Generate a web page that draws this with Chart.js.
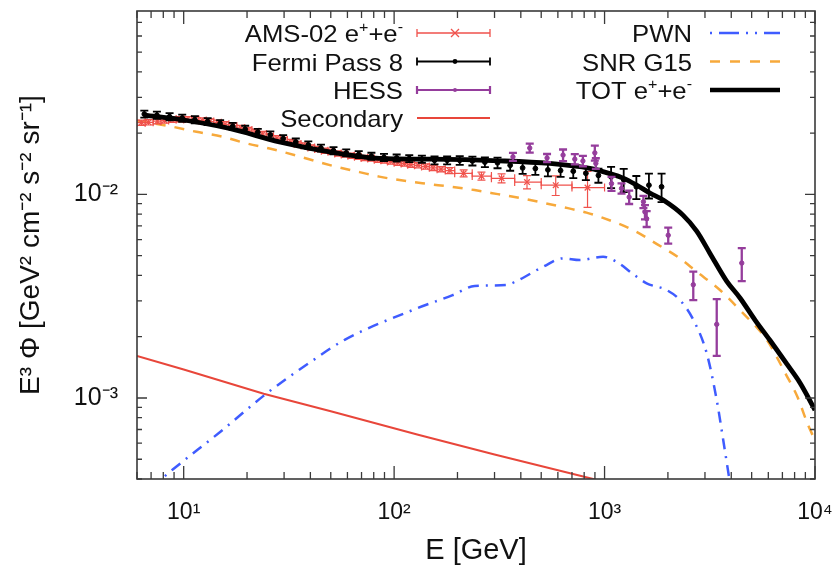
<!DOCTYPE html>
<html><head><meta charset="utf-8">
<script src="https://cdn.jsdelivr.net/npm/chart.js@4/dist/chart.umd.min.js"></script>
<style>html,body{margin:0;padding:0;background:#fff}</style>
</head><body>
<canvas id="c" width="832" height="568"></canvas>
<script>
// ---------- axis ranges & tick labels ----------
const X_MIN = 6, X_MAX = 10000;
const Y_MIN = 4e-4, Y_MAX = 0.0796;
const xTickValues = [10, 100, 1000, 10000];
const xTickLabels = ['10¹', '10²', '10³', '10⁴'];
const yTickValues = [0.001, 0.01];
const yTickLabels = ['10⁻³', '10⁻²'];

// ---------- model curves ----------
const secE = [6, 10, 24, 50, 130, 300, 883, 1000];
const secV = [1.61e-3, 1.38e-3, 1.05e-3, 8.6e-4, 6.6e-4, 5.28e-4, 4.0e-4, 3.85e-4];

const pwnE = [7.0, 8.87, 15, 24.7, 40, 58.2, 127.6, 189.7, 241.4, 341.7, 381, 510, 635, 762, 984, 1140, 1368, 1585, 1972, 2280, 2642, 3057, 3410, 3665, 3917, 4100];
const pwnV = [3.62e-4, 4.45e-4, 6.85e-4, 1.05e-3, 1.50e-3, 1.93e-3, 2.75e-3, 3.2e-3, 3.55e-3, 3.59e-3, 3.75e-3, 4.41e-3, 4.85e-3, 4.76e-3, 4.94e-3, 4.67e-3, 4.06e-3, 3.66e-3, 3.39e-3, 3.03e-3, 2.42e-3, 1.66e-3, 9.8e-4, 6.2e-4, 4.0e-4, 3.0e-4];

const snrE = [6, 8.55, 11.5, 15.3, 19.9, 25.6, 30.8, 52.7, 68.5, 85, 110, 147, 184, 241, 311, 409, 520, 669, 821, 950, 1368, 1774, 2280, 2740, 3535, 4403, 5900, 7293, 8230, 9270, 10000];
const snrV = [0.0230, 0.02164, 0.0203, 0.0192, 0.0178, 0.0168, 0.0160, 0.0137, 0.01287, 0.01223, 0.01169, 0.01124, 0.01092, 0.0105, 0.01003, 0.00954, 0.00906, 0.00856, 0.00814, 0.00776, 0.00668, 0.0057, 0.00485, 0.00417, 0.00339, 0.00270, 0.00193, 0.00130, 0.00102, 0.000736, 0.00062];

const totE = [6.5, 10, 16.5, 28.5, 49.3, 85.3, 147.5, 317.5, 549, 851, 1060, 1226, 1420, 1643, 1900, 2358, 2740, 3170, 3802, 4403, 5190, 6120, 7345, 8492, 10000];
const totV = [0.0245, 0.0232, 0.02109, 0.01812, 0.01618, 0.01502, 0.0149, 0.01462, 0.01419, 0.01342, 0.01265, 0.01202, 0.01111, 0.01015, 0.00938, 0.00791, 0.0066, 0.00513, 0.00375, 0.0031, 0.002415, 0.001916, 0.001469, 0.001185, 0.000873];

// ---------- AMS-02 e+ + e- ----------
const amsE = [6.3,6.8,7.5,8.1,8.8,9.6,10.4,11.3,12.3,13.3,14.5,15.7,17.1,18.7,20.3,21.9,23.7,25.7,27.7,29.9,32.3,34.8,37.5,40.4,43.5,46.8,50.3,54.1,58.2,62.5,67.2,72.3,77.7,83.5,89.7,96.4,104,112,120,130,141,153,167,184,214,260,324,428,586,830];
const amsV = [0.0225,0.0226,0.0229,0.0231,0.0233,0.0234,0.0234,0.0233,0.0231,0.0228,0.0225,0.0221,0.0217,0.0212,0.0207,0.0203,0.0198,0.0193,0.0189,0.0185,0.0181,0.0177,0.0174,0.0170,0.0167,0.0164,0.0162,0.0159,0.0157,0.0155,0.0153,0.0151,0.0150,0.0148,0.0147,0.0145,0.0143,0.0142,0.0140,0.0139,0.0137,0.0135,0.0133,0.0131,0.0127,0.0123,0.0120,0.0115,0.0111,0.0108];
const amsEdges = [6.0,6.56,7.16,7.80,8.48,9.21,10.0,10.9,11.8,12.8,13.9,15.1,16.4,17.9,19.5,21.1,22.8,24.7,26.7,28.8,31.1,33.5,36.1,38.9,41.9,45.1,48.5,52.2,56.1,60.3,64.8,69.7,74.9,80.5,86.5,93.0,100,108,116,125,135,147,160,175,194,235,290,374,500,700,1000];
const amsErr = [0.03,0.03,0.03,0.03,0.03,0.03,0.03,0.03,0.03,0.03,0.03,0.03,0.03,0.03,0.03,0.03,0.03,0.03,0.03,0.03,0.03,0.03,0.03,0.03,0.03,0.03,0.03,0.03,0.03,0.03,0.03,0.03,0.03,0.03,0.03,0.03,0.03,0.03,0.03,0.03,0.03,0.03,0.03,0.035,0.04,0.045,0.05,0.075,0.11,0.2];

// ---------- Fermi Pass 8 ----------
const fermiE = [6.50,7.46,8.57,9.84,11.3,13.0,14.9,17.1,19.6,22.5,25.8,29.7,34.1,39.1,44.9,51.5,59.2,67.9,78.0,89.5,102.8,118,135.5,155.6,178.6,205,235.5,270,310,356,408,469,538,618,710,815,935,1074,1233,1416,1625,1866];
const fermiV = [0.0248,0.0245,0.0241,0.0237,0.0233,0.0228,0.0223,0.0216,0.0209,0.0202,0.0196,0.0188,0.0181,0.0175,0.0169,0.0164,0.0160,0.0157,0.0154,0.0152,0.0151,0.0150,0.0149,0.0147,0.0147,0.0147,0.0146,0.0144,0.0143,0.0139,0.0135,0.0134,0.0132,0.0131,0.0130,0.0127,0.0124,0.0122,0.0118,0.0109,0.0111,0.0109];
const fermiErr = [0.04,0.04,0.04,0.04,0.04,0.04,0.04,0.04,0.04,0.04,0.04,0.04,0.04,0.04,0.04,0.04,0.04,0.04,0.04,0.04,0.04,0.04,0.04,0.045,0.045,0.05,0.05,0.055,0.06,0.06,0.065,0.07,0.07,0.07,0.075,0.075,0.08,0.12,0.13,0.13,0.14,0.16];

// ---------- HESS ----------
const hessE = [367,441,533,635,722,789,899,909,1079,1204,1309,1530,1556,1585,2007,2640,3412,4487];
const hessV = [0.0153,0.0169,0.0151,0.0156,0.0149,0.0146,0.0160,0.0142,0.0113,0.0107,0.0097,0.0092,0.0082,0.0076,0.0063,0.0036,0.0023,0.0046];
const hessErrLo = [0.046,0.05,0.046,0.065,0.058,0.058,0.085,0.06,0.08,0.058,0.075,0.07,0.08,0.09,0.09,0.16,0.30,0.185];
const hessErrHi = [0.046,0.05,0.046,0.065,0.058,0.058,0.085,0.06,0.08,0.058,0.075,0.07,0.08,0.09,0.09,0.16,0.33,0.185];

// ---------- styles ----------
const FONT = "'Liberation Sans', Arial, Helvetica, sans-serif";
const C_AMS = '#f0524c', C_SEC = '#e8463a', C_PWN = '#3f5cff', C_SNR = '#f7a93b', C_HESS = '#953d9c', C_TXT = '#111';

const pts = (xs, ys) => xs.map((x, i) => ({x, y: ys[i]}));

const errSpec = {
  'AMS': {color: C_AMS, width: 1.2, lo: amsErr, hi: amsErr, edges: amsEdges},
  'Fermi': {color: '#000', width: 1.8, lo: fermiErr, hi: fermiErr},
  'HESS': {color: C_HESS, width: 2.3, lo: hessErrLo, hi: hessErrHi}
};

function logTicks(min, max) {
  const out = [];
  for (let e = Math.floor(Math.log10(min)); e <= Math.ceil(Math.log10(max)); e++) {
    for (let m = 1; m <= 9; m++) {
      const v = m * Math.pow(10, e);
      if (v >= min * 0.999 && v <= max * 1.001) out.push({value: v});
    }
  }
  return out;
}
function labelFor(vals, labs, v) {
  const i = vals.findIndex(t => Math.abs(t - v) / t < 1e-6);
  return i >= 0 ? labs[i] : '';
}
function isMajor(v) {
  const l = Math.log10(v);
  return Math.abs(l - Math.round(l)) < 1e-6;
}
function noPad(s) { s.paddingTop = 0; s.paddingBottom = 0; s.paddingLeft = 0; s.paddingRight = 0; }

const errPlugin = {
  id: 'errbars',
  beforeDatasetDraw(chart, args) {
    const ds = chart.data.datasets[args.index];
    const sp = errSpec[ds.key];
    if (!sp) return;
    const {ctx, chartArea: a, scales: {x, y}} = chart;
    ctx.save();
    ctx.beginPath(); ctx.rect(a.left, a.top, a.right - a.left, a.bottom - a.top); ctx.clip();
    ctx.strokeStyle = sp.color; ctx.lineWidth = sp.width;
    const cap = 4;
    ds.data.forEach((p, i) => {
      const px = x.getPixelForValue(p.x), py = y.getPixelForValue(p.y);
      const y1 = y.getPixelForValue(p.y * (1 - sp.lo[i])), y2 = y.getPixelForValue(p.y * (1 + sp.hi[i]));
      ctx.beginPath();
      ctx.moveTo(px, y1); ctx.lineTo(px, y2);
      ctx.moveTo(px - cap, y1); ctx.lineTo(px + cap, y1);
      ctx.moveTo(px - cap, y2); ctx.lineTo(px + cap, y2);
      if (sp.edges) {
        const x1 = x.getPixelForValue(sp.edges[i]), x2 = x.getPixelForValue(sp.edges[i + 1]);
        ctx.moveTo(x1, py); ctx.lineTo(x2, py);
        ctx.moveTo(x1, py - cap); ctx.lineTo(x1, py + cap);
        ctx.moveTo(x2, py - cap); ctx.lineTo(x2, py + cap);
      }
      ctx.stroke();
    });
    ctx.restore();
  }
};

function drawRich(ctx, segs, xRight, base, size, hs) {
  const supSize = Math.round(size * 0.62);
  let total = 0;
  segs.forEach(s => { ctx.font = (s[1] ? supSize : size) + 'px ' + FONT; s.w = ctx.measureText(s[0]).width; total += s.w; });
  ctx.save();
  ctx.translate(xRight, base); ctx.scale(hs, 1);
  let cx = -total;
  ctx.fillStyle = C_TXT; ctx.textBaseline = 'alphabetic'; ctx.textAlign = 'left';
  segs.forEach(s => {
    ctx.font = (s[1] ? supSize : size) + 'px ' + FONT;
    ctx.fillText(s[0], cx, s[1] ? -size * 0.42 : 0);
    cx += s.w;
  });
  ctx.restore();
}

const framePlugin = {
  id: 'frame',
  afterDraw(chart) {
    const {ctx, chartArea: a, scales: {x, y}} = chart;
    ctx.save();
    ctx.strokeStyle = '#3a3a3a'; ctx.lineWidth = 1.6;
    ctx.strokeRect(a.left, a.top, a.right - a.left, a.bottom - a.top);
    ctx.lineWidth = 1.3;
    ctx.beginPath();
    x.ticks.forEach(t => {
      const px = x.getPixelForValue(t.value);
      const L = isMajor(t.value) ? 13 : 7;
      ctx.moveTo(px, a.bottom); ctx.lineTo(px, a.bottom - L);
      ctx.moveTo(px, a.top); ctx.lineTo(px, a.top + L);
    });
    y.ticks.forEach(t => {
      const py = y.getPixelForValue(t.value);
      const L = isMajor(t.value) ? 10 : 5;
      ctx.moveTo(a.left, py); ctx.lineTo(a.left + L, py);
      ctx.moveTo(a.right, py); ctx.lineTo(a.right - L, py);
    });
    ctx.stroke();

    // legend
    const fs = 24, hs = 1.07;
    const rows = [33, 61.5, 90, 118];
    const col1 = 403, col2 = 692;
    const s1a = 417, s1b = 490, s2a = 710, s2b = 780;
    drawRich(ctx, [['AMS-02 e'], ['+', 1], ['+e'], ['-', 1]], col1, rows[0] + 9, fs, hs);
    drawRich(ctx, [['Fermi Pass 8']], col1, rows[1] + 9, fs, hs);
    drawRich(ctx, [['HESS']], col1, rows[2] + 9, fs, hs);
    drawRich(ctx, [['Secondary']], col1, rows[3] + 9, fs, hs);
    drawRich(ctx, [['PWN']], col2, rows[0] + 9, fs, hs);
    drawRich(ctx, [['SNR G15']], col2, rows[1] + 9, fs, hs);
    drawRich(ctx, [['TOT e'], ['+', 1], ['+e'], ['-', 1]], col2, rows[2] + 9, fs, hs);

    const barSample = (yy, color, lw) => {
      ctx.strokeStyle = color; ctx.lineWidth = lw; ctx.setLineDash([]);
      ctx.beginPath();
      ctx.moveTo(s1a, yy); ctx.lineTo(s1b, yy);
      ctx.moveTo(s1a, yy - 4); ctx.lineTo(s1a, yy + 4);
      ctx.moveTo(s1b, yy - 4); ctx.lineTo(s1b, yy + 4);
      ctx.stroke();
    };
    barSample(rows[0], C_AMS, 1.3);
    ctx.beginPath(); ctx.moveTo(451, rows[0] - 4); ctx.lineTo(459, rows[0] + 4); ctx.moveTo(451, rows[0] + 4); ctx.lineTo(459, rows[0] - 4); ctx.stroke();
    barSample(rows[1], '#000', 1.8);
    ctx.fillStyle = '#000'; ctx.beginPath(); ctx.arc(455, rows[1], 2.4, 0, 2 * Math.PI); ctx.fill();
    barSample(rows[2], C_HESS, 2.2);
    ctx.fillStyle = C_HESS; ctx.beginPath(); ctx.arc(455, rows[2], 2, 0, 2 * Math.PI); ctx.fill();
    ctx.strokeStyle = C_SEC; ctx.lineWidth = 2; ctx.beginPath(); ctx.moveTo(s1a, rows[3]); ctx.lineTo(s1b, rows[3]); ctx.stroke();

    ctx.strokeStyle = C_PWN; ctx.lineWidth = 2.5; ctx.setLineDash([2, 7, 20, 7, 2, 7]);
    ctx.beginPath(); ctx.moveTo(s2a, rows[0]); ctx.lineTo(s2b, rows[0]); ctx.stroke();
    ctx.strokeStyle = C_SNR; ctx.lineWidth = 2.5; ctx.setLineDash([10, 10]);
    ctx.beginPath(); ctx.moveTo(s2a, rows[1]); ctx.lineTo(s2b, rows[1]); ctx.stroke();
    ctx.setLineDash([]);
    ctx.strokeStyle = '#000'; ctx.lineWidth = 4.5;
    ctx.beginPath(); ctx.moveTo(s2a, rows[2]); ctx.lineTo(s2b, rows[2]); ctx.stroke();
    ctx.restore();
  }
};

new Chart(document.getElementById('c'), {
  type: 'scatter',
  data: {
    datasets: [
      {label: 'Secondary', data: pts(secE, secV), showLine: true, borderColor: C_SEC, borderWidth: 2, pointRadius: 0, order: 6},
      {label: 'PWN', data: pts(pwnE, pwnV), showLine: true, borderColor: C_PWN, borderWidth: 2.5, borderDash: [11, 7, 2, 7], pointRadius: 0, cubicInterpolationMode: 'monotone', order: 5},
      {label: 'SNR G15', data: pts(snrE, snrV), showLine: true, borderColor: C_SNR, borderWidth: 2.5, borderDash: [10, 9], pointRadius: 0, cubicInterpolationMode: 'monotone', order: 4},
      {key: 'AMS', label: 'AMS-02 e⁺+e⁻', data: pts(amsE, amsV), pointStyle: 'crossRot', pointRadius: 4, pointBorderWidth: 1.3, borderColor: C_AMS, backgroundColor: C_AMS, order: 3},
      {label: 'TOT e⁺+e⁻', data: pts(totE, totV), showLine: true, borderColor: '#000', borderWidth: 4.8, pointRadius: 0, cubicInterpolationMode: 'monotone', order: 2},
      {key: 'Fermi', label: 'Fermi Pass 8', data: pts(fermiE, fermiV), pointStyle: 'circle', pointRadius: 2.4, borderColor: '#000', backgroundColor: '#000', order: 1},
      {key: 'HESS', label: 'HESS', data: pts(hessE, hessV), pointStyle: 'circle', pointRadius: 2.2, borderColor: C_HESS, backgroundColor: C_HESS, order: 0}
    ]
  },
  options: {
    responsive: false, animation: false, devicePixelRatio: 1,
    layout: {padding: {top: 11, right: 17, left: 0, bottom: 0}},
    plugins: {legend: {display: false}, tooltip: {enabled: false}},
    scales: {
      x: {
        type: 'logarithmic', min: X_MIN, max: X_MAX,
        grid: {display: false, drawTicks: false}, border: {display: false},
        afterBuildTicks: s => { s.ticks = logTicks(X_MIN, X_MAX); },
        afterFit: s => { s.height = 89; noPad(s); },
        ticks: {autoSkip: false, maxRotation: 0, padding: 20, color: C_TXT, font: {family: FONT, size: 23},
          callback: v => labelFor(xTickValues, xTickLabels, v)},
        title: {display: true, text: 'E [GeV]', color: C_TXT, font: {family: FONT, size: 29}, padding: {top: 0, bottom: 0}}
      },
      y: {
        type: 'logarithmic', min: Y_MIN, max: Y_MAX,
        grid: {display: false, drawTicks: false}, border: {display: false},
        afterBuildTicks: s => { s.ticks = logTicks(Y_MIN, Y_MAX); },
        afterFit: s => { s.width = 137; noPad(s); },
        ticks: {autoSkip: false, padding: 19, color: C_TXT, font: {family: FONT, size: 25},
          callback: v => labelFor(yTickValues, yTickLabels, v)},
        title: {display: true, text: 'E³ Φ [GeV² cm⁻² s⁻² sr⁻¹]', color: C_TXT, font: {family: FONT, size: 28}, padding: {top: 14, bottom: 0}}
      }
    }
  },
  plugins: [errPlugin, framePlugin]
});
</script>
</body></html>
